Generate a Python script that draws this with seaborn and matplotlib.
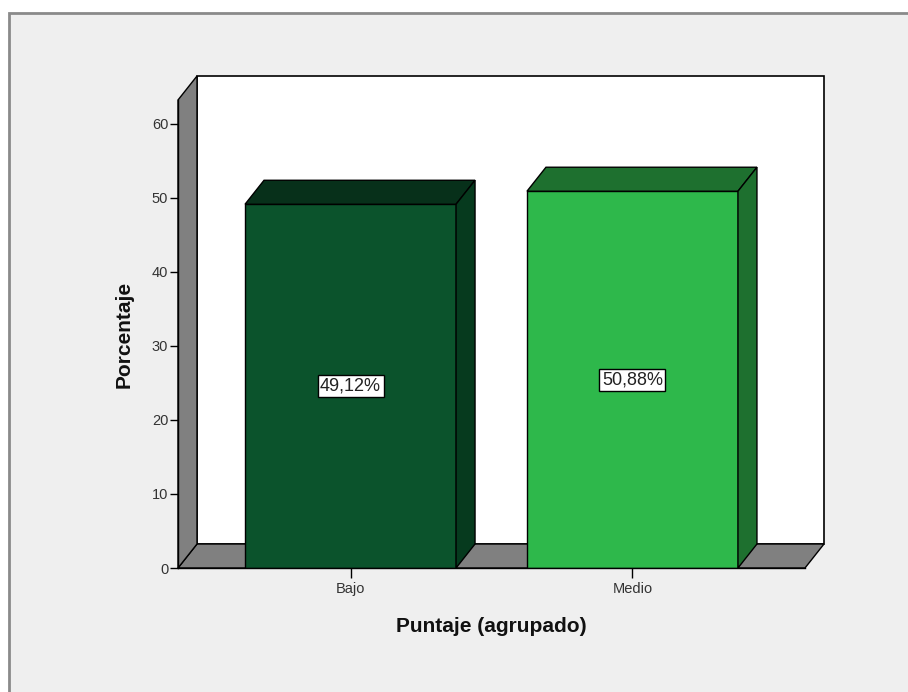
import matplotlib
matplotlib.use("Agg")
import matplotlib.pyplot as plt
from matplotlib.patches import Polygon, Rectangle
import seaborn as sns

# Data
categories = ["Bajo", "Medio"]
percentages = [49.12, 50.88]
value_labels = ["49,12%", "50,88%"]
yticks = [0, 10, 20, 30, 40, 50, 60]

front_colors = ["#0b532c", "#2eb84b"]
shade_top = ["#07301a", "#1e702f"]
shade_side = ["#063a1e", "#1e702f"]
wall_gray = "#808080"

sns.set_theme(style="white")
plt.rcParams["font.family"] = ["Liberation Sans", "DejaVu Sans"]

W, H = 908, 692
fig = plt.figure(figsize=(W / 100, H / 100), dpi=100)
fig.patch.set_facecolor("white")

# outer chart frame
fig.patches.append(Rectangle((9 / W, -0.1), 1.2, (H - 13) / H + 0.1,
                             transform=fig.transFigure, facecolor="#efefef",
                             edgecolor="#8a8a8a", linewidth=2, zorder=-10))

# axes area (front plane of the 3D box)
left, right, bottom, top = 178, 805, 568, 100
ax = fig.add_axes([left / W, (H - bottom) / H, (right - left) / W, (bottom - top) / H])
ax.patch.set_visible(False)

xmin, xmax = -0.612, 1.612
ymax = 63.2

# depth offset converted to data units
px_x = (right - left) / (xmax - xmin)
px_y = (bottom - top) / ymax
dx = 19 / px_x
dy = 24 / px_y

# back wall, floor and left side wall
ax.add_patch(Rectangle((xmin + dx, dy), xmax - xmin, ymax, facecolor="white",
                       edgecolor="black", linewidth=1.2, zorder=0, clip_on=False))
ax.add_patch(Polygon([(xmin, 0), (xmax, 0), (xmax + dx, dy), (xmin + dx, dy)],
                     closed=True, facecolor=wall_gray, edgecolor="black",
                     linewidth=1, zorder=1, clip_on=False))
ax.add_patch(Polygon([(xmin, 0), (xmin, ymax), (xmin + dx, ymax + dy), (xmin + dx, dy)],
                     closed=True, facecolor=wall_gray, edgecolor="black",
                     linewidth=1, zorder=1, clip_on=False))

bar_width = 211 / px_x
sns.barplot(x=categories, y=percentages, hue=categories, palette=front_colors,
            width=bar_width, edgecolor="black", linewidth=1, legend=False,
            saturation=1, ax=ax, zorder=3)
ax.set_xlim(xmin, xmax)
ax.set_ylim(0, ymax)

bars = [p for c in ax.containers for p in c if p.get_height() > 0]
bars.sort(key=lambda p: p.get_x())
for i, p in enumerate(bars):
    x0, w, h = p.get_x(), p.get_width(), p.get_height()
    ax.add_patch(Polygon([(x0, h), (x0 + w, h), (x0 + w + dx, h + dy), (x0 + dx, h + dy)],
                         closed=True, facecolor=shade_top[i], edgecolor="black",
                         linewidth=1, zorder=4, clip_on=False))
    ax.add_patch(Polygon([(x0 + w, 0), (x0 + w + dx, dy), (x0 + w + dx, h + dy), (x0 + w, h)],
                         closed=True, facecolor=shade_side[i], edgecolor="black",
                         linewidth=1, zorder=4, clip_on=False))
    ax.text(x0 + w / 2, h / 2, value_labels[i], ha="center", va="center",
            fontsize=13, color="#222222", zorder=6,
            bbox=dict(boxstyle="square,pad=0.14", facecolor="white",
                      edgecolor="black", linewidth=1))

# axes styling
for s in ["top", "right"]:
    ax.spines[s].set_visible(False)
for s in ["left", "bottom"]:
    ax.spines[s].set_visible(True)
    ax.spines[s].set_color("black")
    ax.spines[s].set_linewidth(1)
    ax.spines[s].set_zorder(5)

ax.set_yticks(yticks)
ax.set_yticklabels([str(t) for t in yticks])
ax.tick_params(axis="y", direction="out", length=6, width=1, color="black",
               labelsize=10.5, labelcolor="#333333", pad=1, left=True)
ax.tick_params(axis="x", direction="out", length=7, width=1, color="black",
               labelsize=10.5, labelcolor="#333333", pad=3, bottom=True)

ax.set_ylabel("Porcentaje", fontsize=15, fontweight="bold", color="#111111", labelpad=13)
ax.set_xlabel("Puntaje (agrupado)", fontsize=15, fontweight="bold", color="#111111", labelpad=15)

fig.savefig("out.png", dpi=100)
